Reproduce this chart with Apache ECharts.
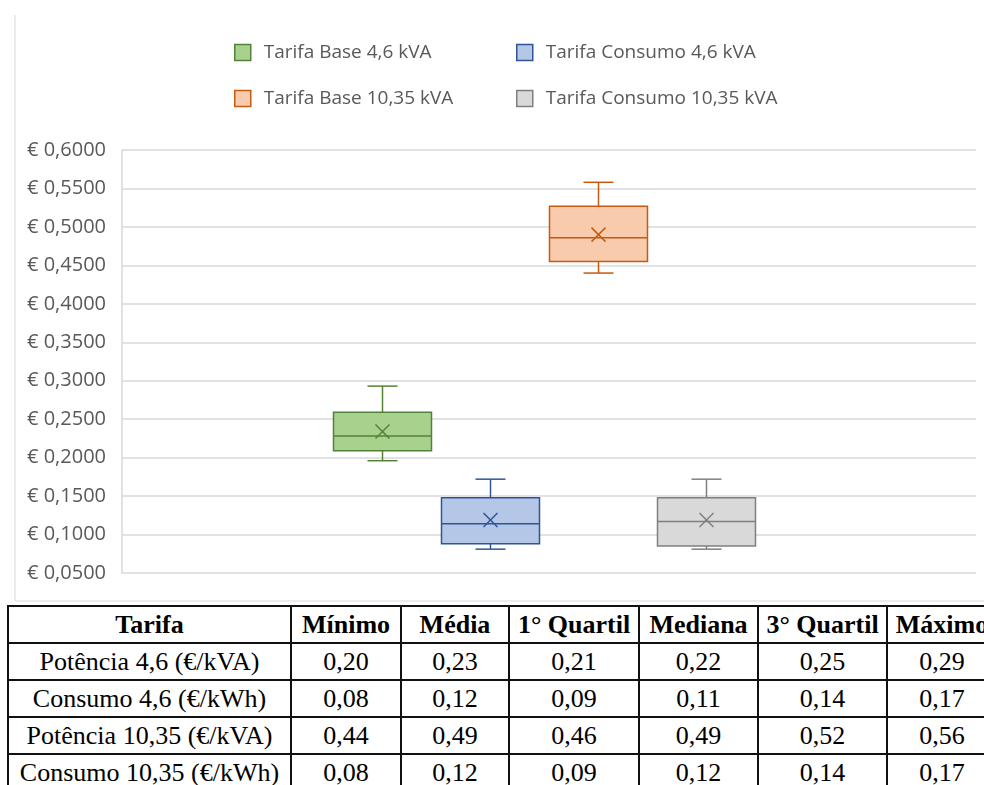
<!DOCTYPE html>
<html>
<head>
<meta charset="utf-8">
<title>Tarifas – diagrama de extremos e quartis</title>
<script src="https://cdn.jsdelivr.net/npm/echarts@6/dist/echarts.min.js"></script>
<style>
  html, body { margin: 0; padding: 0; background: #ffffff; }
  body { width: 984px; height: 785px; overflow: hidden; position: relative; }
  #chart { position: absolute; left: 0; top: 0; width: 984px; height: 603px; }
  #stats {
    position: absolute; left: 7px; top: 605px;
    border-collapse: collapse; table-layout: fixed;
    font-family: "Liberation Serif", "Times New Roman", serif;
    font-size: 26px; color: #000;
  }
  #stats td, #stats th {
    border: 2px solid #111; padding: 0; height: 35px;
    text-align: center; vertical-align: middle; line-height: 1;
    white-space: nowrap; overflow: hidden;
  }
  #stats th { font-weight: bold; }
</style>
</head>
<body>
<div id="chart"></div>
<table id="stats"></table>
<script>
// ---- box-plot statistics (€) per tariff ----
const seriesNames = [
  'Tarifa Base 4,6 kVA',
  'Tarifa Consumo 4,6 kVA',
  'Tarifa Base 10,35 kVA',
  'Tarifa Consumo 10,35 kVA'
];
const minimo   = [0.196, 0.081, 0.440, 0.081];
const quartil1 = [0.209, 0.088, 0.455, 0.085];
const mediana  = [0.228, 0.114, 0.486, 0.117];
const quartil3 = [0.259, 0.148, 0.527, 0.148];
const maximo   = [0.293, 0.172, 0.558, 0.172];
const media    = [0.234, 0.119, 0.490, 0.119];

// single category holding all four boxes
const categories = ['Tarifas'];

// value axis range and step
const yMin = 0.05;
const yMax = 0.60;
const yStep = 0.05;

// ---- summary table ----
const tableHeader = ['Tarifa', 'Mínimo', 'Média', '1° Quartil', 'Mediana', '3° Quartil', 'Máximo'];
const tableRowNames = [
  'Potência 4,6 (€/kVA)',
  'Consumo 4,6 (€/kWh)',
  'Potência 10,35 (€/kVA)',
  'Consumo 10,35 (€/kWh)'
];
const tabMinimo   = ['0,20', '0,08', '0,44', '0,08'];
const tabMedia    = ['0,23', '0,12', '0,49', '0,12'];
const tabQuartil1 = ['0,21', '0,09', '0,46', '0,09'];
const tabMediana  = ['0,22', '0,11', '0,49', '0,12'];
const tabQuartil3 = ['0,25', '0,14', '0,52', '0,14'];
const tabMaximo   = ['0,29', '0,17', '0,56', '0,17'];

// ---- styling ----
const palette = [
  { fill: '#A9D18E', border: '#548235' },
  { fill: '#B4C7E7', border: '#2F5597' },
  { fill: '#F8CBAD', border: '#C55A11' },
  { fill: '#D9D9D9', border: '#7F7F7F' }
];
const SLOT = 108;      // distance between neighbouring box centres (px)
const SHIFT = 4.5;     // whole group sits slightly left of the band centre
const BOX_W = 98;
const CAP_W = 30;
const MEAN_R = 7;
const LINE_W = 1.5;

function renderBox(params, api) {
  const i = params.seriesIndex;
  const st = palette[i];
  const cat = api.value(0);
  const pt = k => api.coord([cat, api.value(k)]);
  const cx = pt(3)[0] + (i - 1.5) * SLOT - SHIFT;
  const yLo = pt(1)[1], yQ1 = pt(2)[1], yMed = pt(3)[1];
  const yQ3 = pt(4)[1], yHi = pt(5)[1], yAvg = pt(6)[1];
  const hw = BOX_W / 2, cw = CAP_W / 2, m = MEAN_R;
  const ls = { stroke: st.border, lineWidth: LINE_W, fill: null };
  const line = (x1, y1, x2, y2) => ({ type: 'line', shape: { x1, y1, x2, y2 }, style: ls });
  return {
    type: 'group',
    children: [
      line(cx, yHi, cx, yQ3),
      line(cx - cw, yHi, cx + cw, yHi),
      line(cx, yQ1, cx, yLo),
      line(cx - cw, yLo, cx + cw, yLo),
      {
        type: 'rect',
        shape: { x: cx - hw, y: yQ3, width: BOX_W, height: yQ1 - yQ3 },
        style: { fill: st.fill, stroke: st.border, lineWidth: LINE_W }
      },
      line(cx - hw, yMed, cx + hw, yMed),
      line(cx - m, yAvg - m, cx + m, yAvg + m),
      line(cx - m, yAvg + m, cx + m, yAvg - m)
    ]
  };
}

const series = seriesNames.map((name, i) => ({
  name: name,
  type: 'custom',
  renderItem: renderBox,
  encode: { x: 0, y: [1, 2, 3, 4, 5, 6] },
  itemStyle: { color: palette[i].fill, borderColor: palette[i].border },
  data: [[categories[0], minimo[i], quartil1[i], mediana[i], quartil3[i], maximo[i], media[i]]]
}));

const legendItem = i => ({
  name: seriesNames[i],
  itemStyle: { color: palette[i].fill, borderColor: palette[i].border, borderWidth: LINE_W }
});
const legendCommon = {
  orient: 'vertical',
  top: 42,
  padding: 0,
  icon: 'rect',
  itemWidth: 16,
  itemHeight: 16,
  itemGap: 25,
  selectedMode: false,
  textStyle: {
    fontFamily: 'Open Sans', fontSize: 19, color: '#595959',
    lineHeight: 21, padding: [0, 0, 0, 8]
  }
};

const chart = echarts.init(document.getElementById('chart'), null, { renderer: 'canvas' });
chart.setOption({
  animation: false,
  backgroundColor: '#ffffff',
  graphic: [
    { type: 'line', shape: { x1: 15, y1: 15, x2: 15, y2: 601 }, style: { stroke: '#e6e6e6', lineWidth: 1.5 } },
    { type: 'line', shape: { x1: 15, y1: 601, x2: 984, y2: 601 }, style: { stroke: '#e6e6e6', lineWidth: 1.5 } }
  ],
  legend: [
    Object.assign({ left: 234, data: [legendItem(0), legendItem(2)] }, legendCommon),
    Object.assign({ left: 516, data: [legendItem(1), legendItem(3)] }, legendCommon)
  ],
  grid: { left: 122, right: 8, top: 150, bottom: 30 },
  xAxis: {
    type: 'category',
    data: categories,
    axisLine: { show: false },
    axisTick: { show: false },
    axisLabel: { show: false },
    splitLine: { show: false }
  },
  yAxis: {
    type: 'value',
    min: yMin,
    max: yMax,
    interval: yStep,
    axisLine: { show: true, lineStyle: { color: '#d9d9d9', width: 1.5 } },
    axisTick: { show: false },
    splitLine: { show: true, lineStyle: { color: '#d9d9d9', width: 1.5 } },
    axisLabel: {
      margin: 16,
      fontFamily: 'Open Sans',
      fontSize: 20,
      color: '#595959',
      formatter: v => '€ ' + v.toFixed(4).replace('.', ',')
    }
  },
  series: series
});

// build the summary table from the arrays above
(function buildTable() {
  const colWidths = [283, 110, 108, 130, 119, 129, 110];
  const table = document.getElementById('stats');
  const cg = document.createElement('colgroup');
  colWidths.forEach(w => {
    const c = document.createElement('col');
    c.style.width = w + 'px';
    cg.appendChild(c);
  });
  table.appendChild(cg);
  const head = document.createElement('tr');
  tableHeader.forEach(h => {
    const th = document.createElement('th');
    th.textContent = h;
    head.appendChild(th);
  });
  table.appendChild(head);
  tableRowNames.forEach((name, r) => {
    const tr = document.createElement('tr');
    [name, tabMinimo[r], tabMedia[r], tabQuartil1[r], tabMediana[r], tabQuartil3[r], tabMaximo[r]]
      .forEach(txt => {
        const td = document.createElement('td');
        td.textContent = txt;
        tr.appendChild(td);
      });
    table.appendChild(tr);
  });
  table.style.width = colWidths.reduce((a, b) => a + b, 0) + 'px';
})();
</script>
</body>
</html>
